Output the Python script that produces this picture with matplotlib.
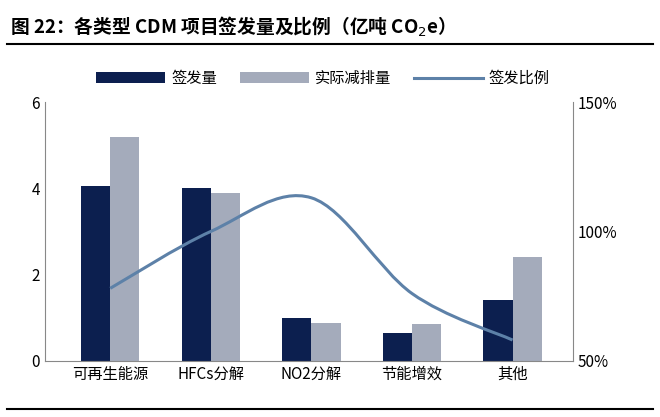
import matplotlib
matplotlib.use("Agg")
import matplotlib.pyplot as plt
import numpy as np
from matplotlib.path import Path
from matplotlib.patches import PathPatch
from matplotlib.ticker import FuncFormatter

plt.rcParams['font.family'] = ['Noto Sans CJK SC', 'DejaVu Sans']

categories = ['可再生能源', 'HFCs分解', 'NO2分解', '节能增效', '其他']
issued = [4.05, 4.0, 1.0, 0.65, 1.4]
actual = [5.2, 3.9, 0.88, 0.85, 2.4]
ratio = [78, 100, 113, 76, 58]

fig = plt.figure(figsize=(6.6, 4.17), dpi=100)
ax = fig.add_axes([0.068, 0.135, 0.80, 0.62])
x = np.arange(len(categories))
w = 0.29
ax.bar(x - w/2, issued, w, color='#0c1f4f', label='签发量')
ax.bar(x + w/2, actual, w, color='#a4abbb', label='实际减排量')
ax.set_ylim(0, 6)
ax.set_yticks([0, 2, 4, 6])
ax.set_xlim(-0.65, 4.6)
ax.set_xticks(x)
ax.set_xticklabels(categories, fontsize=11)
for s in ['top', 'right']:
    ax.spines[s].set_visible(False)
ax.spines['left'].set_color('#888888')
ax.spines['bottom'].set_color('#888888')
ax.tick_params(labelsize=11, length=0)

ax2 = ax.twinx()
ax2.set_ylim(50, 150)
ax2.set_yticks([50, 100, 150])
ax2.yaxis.set_major_formatter(FuncFormatter(lambda v, p: f'{v:.0f}%'))
for s in ['top', 'left', 'bottom']:
    ax2.spines[s].set_visible(False)
ax2.spines['right'].set_color('#888888')
ax2.tick_params(labelsize=11, length=0)

pts = np.column_stack([x, ratio]).astype(float)
verts = [tuple(pts[0])]
codes = [Path.MOVETO]
n = len(pts)
for i in range(n - 1):
    p0 = pts[i - 1] if i > 0 else pts[i]
    p1, p2 = pts[i], pts[i + 1]
    p3 = pts[i + 2] if i + 2 < n else pts[i + 1]
    c1 = p1 + (p2 - p0) / 6
    c2 = p2 - (p3 - p1) / 6
    verts += [tuple(c1), tuple(c2), tuple(p2)]
    codes += [Path.CURVE4] * 3
ax2.add_patch(PathPatch(Path(verts, codes), fill=False, edgecolor='#5d81a8', lw=2.2))
ax2.plot([], [], color='#5d81a8', lw=2.2, label='签发比例')

h1, l1 = ax.get_legend_handles_labels()
h2, l2 = ax2.get_legend_handles_labels()
fig.legend(h1 + h2, l1 + l2, loc='upper left', bbox_to_anchor=(0.125, 0.865), ncol=3,
           frameon=False, fontsize=11, handlelength=4.5, handletextpad=0.4, columnspacing=1.5)

fig.text(0.015, 0.935, '图 22：各类型 CDM 项目签发量及比例（亿吨 CO$_2$e）',
         fontsize=13.5, fontweight='bold', va='center')
fig.add_artist(plt.Line2D([0.01, 0.99], [0.895, 0.895], color='black', lw=1.5))
fig.add_artist(plt.Line2D([0.01, 0.99], [0.018, 0.018], color='black', lw=1.5))

fig.savefig('out.png', dpi=100)
